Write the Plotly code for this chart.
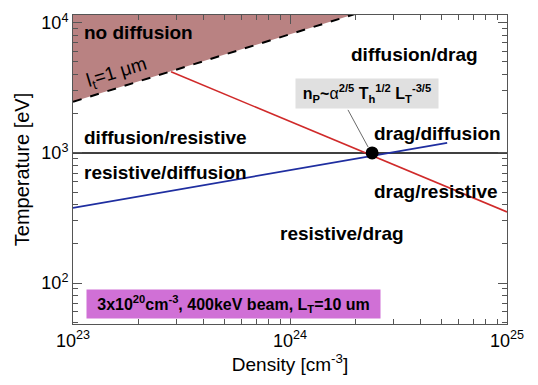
import plotly.graph_objects as go
import numpy as np

# ---- data ----
# l_t = 1 um boundary of the "no diffusion" region
lt_density = [1e23, 2.5e24]
lt_temp = [2470, 13150]
# red boundary (drag / resistive vs diffusion)
red_density = [2.83e23, 1e25]
red_temp = [4200, 352]
# blue boundary
blue_density = [1e23, 5.3e24]
blue_temp = [378, 1194]
# horizontal black boundary
black_density = [1e23, 1e25]
black_temp = [1000, 1000]
# intersection point n_P
np_density = [2.39e24]
np_temp = [1000]
# pointer from the formula box to the point
ptr_density = [1.85e24, 2.29e24]
ptr_temp = [2142, 1110]

x_major = [1e23, 1e24, 1e25]
x_major_text = ["10<sup>23</sup>", "10<sup>24</sup>", "10<sup>25</sup>"]
y_major = [1e2, 1e3, 1e4]
y_major_text = ["10<sup>2</sup>", "10<sup>3</sup>", "10<sup>4</sup>"]
x_minor = [m * 10.0 ** e for e in (23, 24) for m in range(2, 10)]
y_minor = [m * 10.0 ** e for e in (1, 2, 3) for m in range(2, 10)]

region_labels = ["no diffusion", "diffusion/drag", "diffusion/resistive",
                 "resistive/diffusion", "drag/diffusion", "drag/resistive",
                 "resistive/drag"]
region_label_density = [1.10e23, 1.87e24, 1.10e23, 1.10e23, 2.39e24, 2.39e24, 8.8e23]
region_label_temp = [8490, 5660, 1303, 713, 1422, 509, 242]

FONT = "Liberation Sans, Arial, Helvetica, sans-serif"

fig = go.Figure()

# shaded no-diffusion region
fig.add_trace(go.Scatter(
    x=lt_density + [lt_density[0], lt_density[0]],
    y=lt_temp + [lt_temp[-1], lt_temp[0]],
    mode="lines", fill="toself", fillcolor="#b98282",
    line=dict(width=0), hoverinfo="skip", showlegend=False))
fig.add_trace(go.Scatter(x=lt_density, y=lt_temp, mode="lines",
                         line=dict(color="black", width=2, dash="dash"),
                         showlegend=False))
fig.add_trace(go.Scatter(x=black_density, y=black_temp, mode="lines",
                         line=dict(color="black", width=1.5), showlegend=False))
fig.add_trace(go.Scatter(x=red_density, y=red_temp, mode="lines",
                         line=dict(color="#d02a2a", width=1.6), showlegend=False))
fig.add_trace(go.Scatter(x=blue_density, y=blue_temp, mode="lines",
                         line=dict(color="#1f2ea0", width=1.8), showlegend=False))
fig.add_trace(go.Scatter(x=ptr_density, y=ptr_temp, mode="lines",
                         line=dict(color="#444444", width=0.8), showlegend=False))
fig.add_trace(go.Scatter(x=np_density, y=np_temp, mode="markers",
                         marker=dict(color="black", size=13), showlegend=False))

annotations = []
for t, xd, yd in zip(region_labels, region_label_density, region_label_temp):
    annotations.append(dict(x=np.log10(xd), y=np.log10(yd), xref="x", yref="y",
                            text=f"<b>{t}</b>", showarrow=False,
                            xanchor="left", yanchor="middle",
                            font=dict(family=FONT, size=19, color="black")))

annotations.append(dict(x=np.log10(1.6e23), y=np.log10(4110), xref="x", yref="y",
                        text="l<sub>t</sub>=1 μm", showarrow=False, textangle=-17,
                        xanchor="center", yanchor="middle",
                        font=dict(family=FONT, size=19, color="black")))

annotations.append(dict(x=np.log10(2.26e24), y=np.log10(2884), xref="x", yref="y",
                        text="<b>n<sub>P</sub>~</b>α<b><sup>2/5</sup> T<sub>h</sub><sup>1/2</sup> L<sub>T</sub><sup>-3/5</sup></b>",
                        showarrow=False, xanchor="center", yanchor="middle",
                        width=140, height=27, bgcolor="#e0e0e0",
                        font=dict(family=FONT, size=16, color="black")))

annotations.append(dict(x=np.log10(5.5e23), y=np.log10(68.4), xref="x", yref="y",
                        text="<b>3x10<sup>20</sup>cm<sup>-3</sup>, 400keV beam, L<sub>T</sub>=10 um</b>",
                        showarrow=False, xanchor="center", yanchor="middle",
                        width=291, height=26, bgcolor="#d070d6",
                        font=dict(family=FONT, size=16, color="black")))

axis_common = dict(showgrid=False, zeroline=False, showline=True,
                   linecolor="#555555", linewidth=1, mirror="ticks",
                   ticks="inside", ticklen=9, tickcolor="#555555",
                   tickfont=dict(family=FONT, size=18, color="black"))

fig.update_layout(
    width=538, height=385,
    margin=dict(l=73, r=31, t=15, b=61),
    paper_bgcolor="white", plot_bgcolor="white",
    showlegend=False,
    annotations=annotations,
    xaxis=dict(type="log", range=[23, 25], tickvals=x_major, ticktext=x_major_text,
               minor=dict(tickvals=x_minor, ticks="inside", ticklen=5, tickcolor="#555555"),
               title=dict(text="Density [cm<sup>-3</sup>]", standoff=4,
                          font=dict(family=FONT, size=19, color="black")),
               **axis_common),
    yaxis=dict(type="log", range=[1.685, 4.06], tickvals=y_major, ticktext=y_major_text,
               minor=dict(tickvals=y_minor, ticks="inside", ticklen=5, tickcolor="#555555"),
               title=dict(text="Temperature [eV]", standoff=6,
                          font=dict(family=FONT, size=20, color="black")),
               **axis_common),
)

fig.write_html("out.html")
